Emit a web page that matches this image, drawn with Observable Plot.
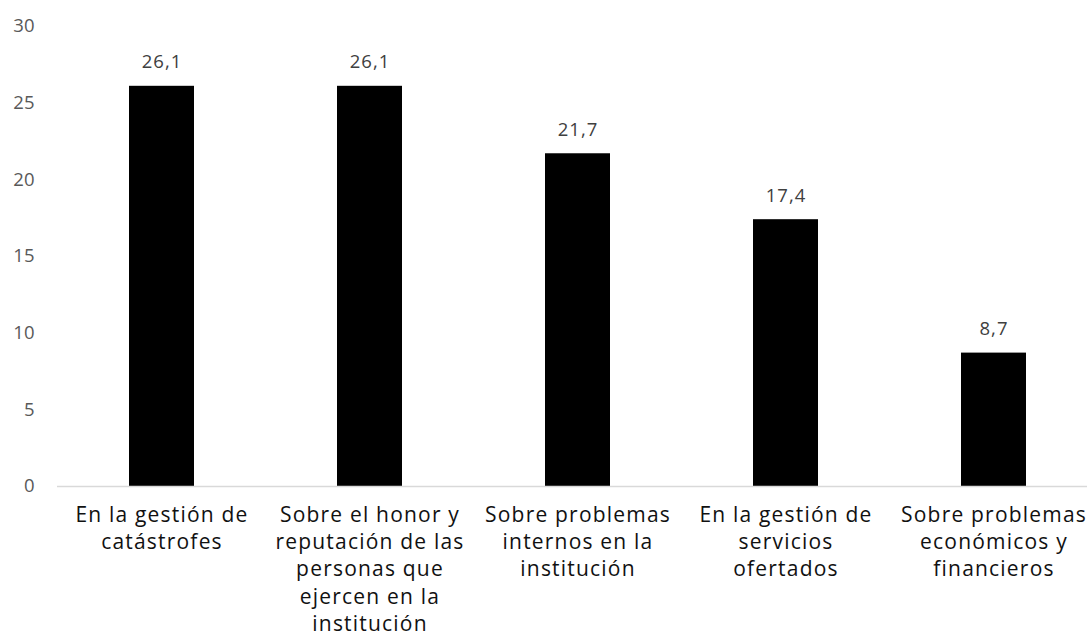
<!DOCTYPE html>
<html><head><meta charset="utf-8">
<script src="https://cdn.jsdelivr.net/npm/d3@7"></script>
<script src="https://cdn.jsdelivr.net/npm/@observablehq/plot@0.6"></script>
<style>
body{margin:0;background:#fff}
g[aria-label="x-axis tick label"] text{letter-spacing:1.2px}
g[aria-label="text"] text{letter-spacing:1px}
</style>
</head><body><div id="chart"></div>
<script>
const categories = [
  "En la gestión de catástrofes",
  "Sobre el honor y reputación de las personas que ejercen en la institución",
  "Sobre problemas internos en la institución",
  "En la gestión de servicios ofertados",
  "Sobre problemas económicos y financieros"
];
const values = [26.1, 26.1, 21.7, 17.4, 8.7];
const tickLabels = [
  "En la gestión de\ncatástrofes",
  "Sobre el honor y\nreputación de las\npersonas que\nejercen en la\ninstitución",
  "Sobre problemas\ninternos en la\ninstitución",
  "En la gestión de\nservicios\nofertados",
  "Sobre problemas\neconómicos y\nfinancieros"
];
const yTicks = [0, 5, 10, 15, 20, 25, 30];

const data = categories.map((c, i) => ({category: c, value: values[i]}));
const fmt = v => v.toFixed(1).replace(".", ",");

const chart = Plot.plot({
  width: 1087,
  height: 637,
  marginLeft: 57,
  marginRight: -10,
  marginTop: 26,
  marginBottom: 151,
  style: {fontFamily: "'Open Sans', sans-serif", background: "#fff"},
  x: {domain: categories, paddingInner: 0.6875, paddingOuter: 0.34375},
  y: {domain: [0, 30]},
  marks: [
    Plot.barY(data, {x: "category", y: "value", fill: "#000"}),
    Plot.ruleY([0], {stroke: "#d9d9d9", strokeWidth: 1.5}),
    Plot.text(data, {x: "category", y: "value", text: d => fmt(d.value), dy: -24,
      fill: "#404040", fontSize: 18.5, fontFamily: "'Open Sans'"}),
    Plot.axisY(yTicks, {tickSize: 0, tickPadding: 23, fontSize: 18.5, fill: "#595959", label: null}),
    Plot.axisX({tickSize: 0, tickPadding: 16, fontSize: 21, lineHeight: 1.3, fill: "#111",
      fontFamily: "'Open Sans'", label: null,
      tickFormat: d => tickLabels[categories.indexOf(d)]})
  ]
});
document.getElementById("chart").appendChild(chart);
</script>
</body></html>
